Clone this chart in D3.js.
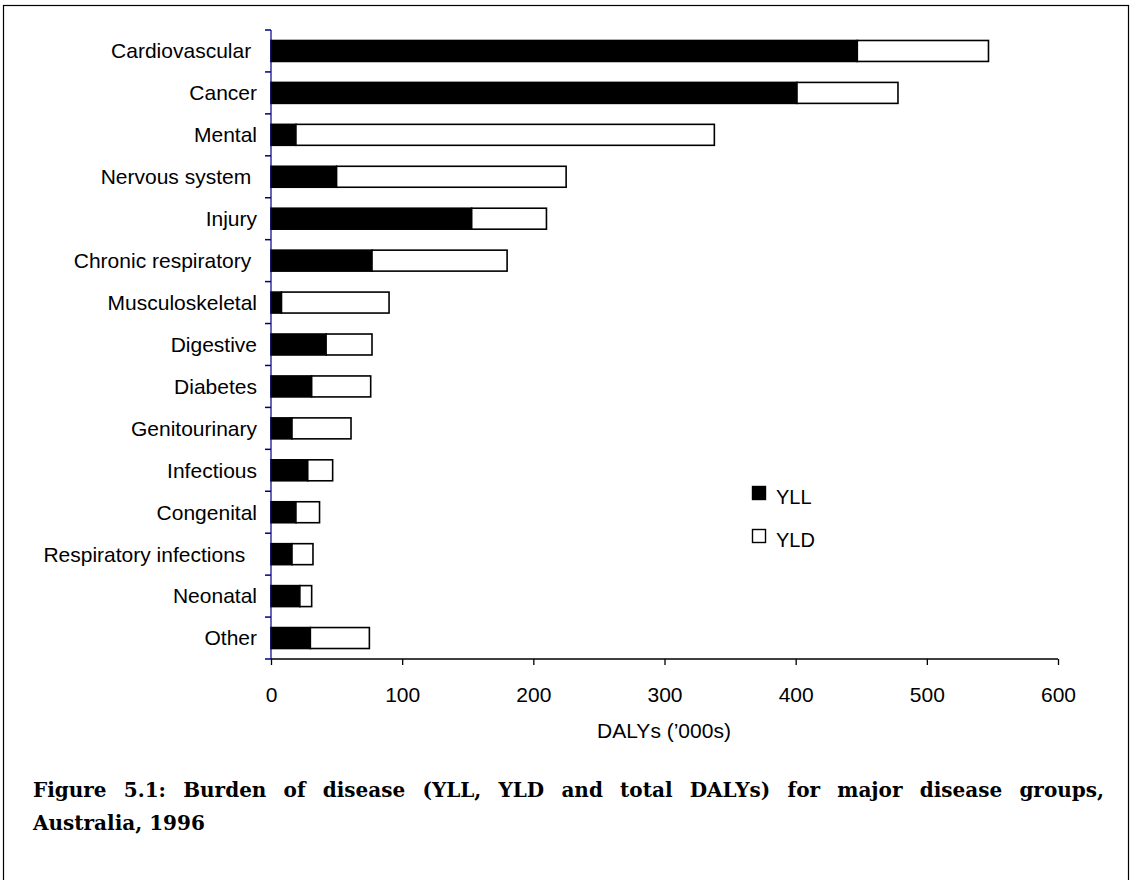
<!DOCTYPE html>
<html>
<head>
<meta charset="utf-8">
<script src="https://cdn.jsdelivr.net/npm/d3@7"></script>
<style>
  html, body { margin: 0; padding: 0; background: #fff; }
  svg { display: block; }
</style>
</head>
<body>
<svg id="chart" width="1132" height="880"></svg>
<script>
// ---- data (values in '000 DALYs) ----
const categories = [
  "Cardiovascular ", "Cancer", "Mental", "Nervous system ", "Injury",
  "Chronic respiratory ", "Musculoskeletal", "Digestive", "Diabetes",
  "Genitourinary", "Infectious", "Congenital", "Respiratory infections  ",
  "Neonatal", "Other"
];
const yll = [447, 401, 19, 50, 153, 77, 8, 42, 31, 16, 28, 19, 16, 22, 30];
const yld = [100, 77, 319, 175, 57, 103, 82, 35, 45, 45, 19, 18, 16, 9, 45];
const xTicks = [0, 100, 200, 300, 400, 500, 600];
const seriesNames = ["YLL", "YLD"];
const seriesFill = ["#000000", "#ffffff"];
const xTitle = "DALYs (\u2019000s)";
const titleLines = [
  "Figure 5.1: Burden of disease (YLL, YLD and total DALYs) for major disease groups,",
  "Australia, 1996"
];

const svg = d3.select("#chart");
const plot = { left: 271, right: 1058, top: 30, bottom: 659 };
const sans = "'Liberation Sans', Arial, sans-serif";

// outer frame
svg.append("rect")
  .attr("x", 3.5).attr("y", 5.5).attr("width", 1125).attr("height", 880)
  .attr("fill", "none").attr("stroke", "#000").attr("stroke-width", 1.2);

const x = d3.scaleLinear().domain([0, 600]).range([plot.left, plot.right]);
const y = d3.scaleBand().domain(categories).range([plot.top, plot.bottom]).paddingInner(0.5).paddingOuter(0.25);

const data = categories.map((c, i) => ({ cat: c, yll: yll[i], yld: yld[i] }));
const stacked = d3.stack().keys(["yll", "yld"])(data);

// bars
const g = svg.append("g");
stacked.forEach((layer, si) => {
  g.selectAll(null).data(layer).enter().append("rect")
    .attr("x", d => x(d[0]))
    .attr("y", d => y(d.data.cat))
    .attr("width", d => x(d[1]) - x(d[0]))
    .attr("height", y.bandwidth())
    .attr("fill", seriesFill[si])
    .attr("stroke", "#000")
    .attr("stroke-width", 1.6);
});

// y axis (navy), ticks at band boundaries
const yAxisG = svg.append("g");
yAxisG.append("line")
  .attr("x1", plot.left).attr("x2", plot.left)
  .attr("y1", plot.top).attr("y2", plot.bottom)
  .attr("stroke", "#000080").attr("stroke-width", 1.2);
const step = y.step();
const boundaries = d3.range(categories.length + 1).map(i => plot.top + i * step);
yAxisG.selectAll(null).data(boundaries).enter().append("line")
  .attr("x1", plot.left - 6).attr("x2", plot.left)
  .attr("y1", d => d).attr("y2", d => d)
  .attr("stroke", "#000080").attr("stroke-width", 1.5);

// category labels
svg.append("g").selectAll(null).data(categories).enter().append("text")
  .attr("x", 257)
  .attr("y", d => y(d) + y.bandwidth() / 2)
  .attr("dy", "0.35em")
  .attr("text-anchor", "end")
  .style("white-space", "pre")
  .attr("font-family", sans)
  .attr("font-size", 21)
  .attr("fill", "#000")
  .text(d => d);

// x axis
const xAxis = d3.axisBottom(x).tickValues(xTicks).tickSize(6).tickPadding(22).tickFormat(d3.format("d"));
const xg = svg.append("g").attr("transform", `translate(0,${plot.bottom})`).call(xAxis);
xg.select(".domain").attr("stroke", "#000").attr("stroke-width", 1.3).attr("d", `M${plot.left},0H${plot.right}`);
xg.selectAll(".tick line").attr("stroke", "#000").attr("stroke-width", 1.3);
xg.selectAll(".tick text")
  .attr("font-family", sans)
  .attr("font-size", 21).attr("fill", "#000");

svg.append("text")
  .attr("x", 664).attr("y", 738)
  .attr("text-anchor", "middle")
  .attr("font-family", sans)
  .attr("font-size", 21)
  .text(xTitle);

// legend
const legend = svg.append("g");
seriesNames.forEach((name, i) => {
  const ly = 486 + i * 43;
  legend.append("rect")
    .attr("x", 752.5).attr("y", ly + 0.5).attr("width", 13).attr("height", 13)
    .attr("fill", seriesFill[i]).attr("stroke", "#000").attr("stroke-width", 1.4);
  legend.append("text")
    .attr("x", 776).attr("y", ly + 18)
    .attr("font-family", sans)
    .attr("font-size", 20)
    .text(name);
});

// figure caption (first line justified to the text block width)
const capLeft = 33, capRight = 1104;
const cap = svg.append("g").selectAll(null).data(titleLines).enter().append("text")
  .attr("x", capLeft)
  .attr("y", (d, i) => 797 + i * 33)
  .attr("font-family", "'DejaVu Serif', 'Liberation Serif', serif")
  .attr("font-weight", "bold")
  .attr("font-size", 20)
  .attr("fill", "#000")
  .text(d => d);
cap.each(function (d, i) {
  if (i === titleLines.length - 1) return;
  const len = this.getComputedTextLength();
  const spaces = (d.match(/ /g) || []).length;
  d3.select(this).attr("word-spacing", ((capRight - capLeft) - len) / spaces);
});
</script>
</body>
</html>
